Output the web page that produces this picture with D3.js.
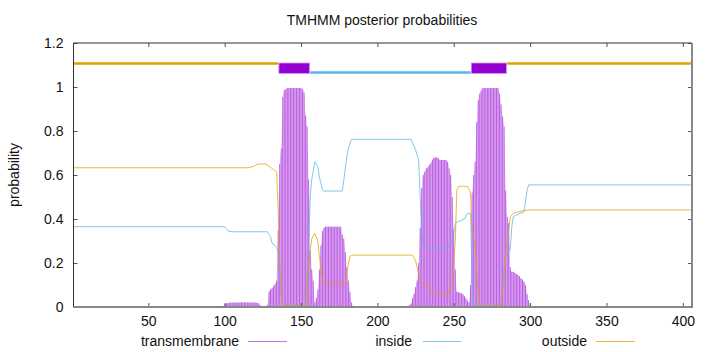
<!DOCTYPE html>
<html>
<head>
<meta charset="utf-8">
<script src="https://cdn.jsdelivr.net/npm/d3@7"></script>
<style>
  html, body { margin: 0; padding: 0; background: #fff; }
  svg text { font-family: "Liberation Sans", Arial, sans-serif; fill: #111; }
</style>
</head>
<body>
<svg id="chart" width="720" height="352"></svg>
<script>
// ---- data ----
const seqLength = 406;
const xTicks = [50, 100, 150, 200, 250, 300, 350, 400];
const yTicks = [0, 0.2, 0.4, 0.6, 0.8, 1, 1.2];
const yTickLabels = ["0", "0.2", "0.4", "0.6", "0.8", "1", "1.2"];
const seriesNames = ["transmembrane", "inside", "outside"];

// topology segments [start, end]
const outsideSegments = [[1, 135], [285, 406]];
const insideSegments = [[156, 261]];
const tmSegments = [[136, 155], [262, 284]];

// transmembrane posterior, one value per residue starting at tmStart
const tmStart = 96;
const tmValues = [
  0, 0, 0, 0.005,                                                     // 96-99
  0.012, 0.016, 0.018, 0.019, 0.02, 0.02, 0.02, 0.02, 0.02, 0.02,     // 100-109
  0.021, 0.021, 0.021, 0.021, 0.021, 0.021, 0.021, 0.02, 0.02, 0.02,  // 110-119
  0.02, 0.019, 0.018, 0.01, 0.003, 0.003, 0.003, 0.004, 0.01, 0.07,   // 120-129
  0.08, 0.085, 0.095, 0.105, 0.12, 0.35, 0.65, 0.72, 0.955, 0.985,    // 130-139
  0.99, 0.995, 0.995, 0.995, 0.995, 0.995, 0.995, 0.995, 0.995, 0.995,// 140-149
  0.995, 0.99, 0.975, 0.87, 0.82, 0.58, 0.26, 0.17, 0.12, 0.02,       // 150-159
  0.04, 0.08, 0.17, 0.28, 0.345, 0.36, 0.365, 0.365, 0.365, 0.365,    // 160-169
  0.365, 0.365, 0.365, 0.365, 0.365, 0.365, 0.365, 0.33, 0.31, 0.25,  // 170-179
  0.18, 0.12, 0.07, 0.02, 0.005, 0, 0, 0, 0, 0,                       // 180-189
  0, 0, 0, 0, 0, 0, 0, 0, 0, 0,                                       // 190-199
  0, 0, 0, 0, 0, 0, 0, 0, 0, 0,                                       // 200-209
  0, 0, 0, 0, 0, 0, 0, 0, 0, 0.003,                                   // 210-219
  0.005, 0.008, 0.015, 0.04, 0.06, 0.09, 0.12, 0.2, 0.36, 0.54,       // 220-229
  0.6, 0.615, 0.63, 0.635, 0.645, 0.655, 0.67, 0.678, 0.68, 0.68,     // 230-239
  0.675, 0.668, 0.668, 0.668, 0.668, 0.668, 0.66, 0.63, 0.6, 0.5,     // 240-249
  0.35, 0.17, 0.07, 0.068, 0.065, 0.062, 0.058, 0.05, 0.04, 0.028,    // 250-259
  0.02, 0.1, 0.52, 0.6, 0.66, 0.84, 0.94, 0.97, 0.985, 0.995,         // 260-269
  0.995, 0.995, 0.995, 0.995, 0.995, 0.995, 0.995, 0.995, 0.995, 0.995,// 270-279
  0.97, 0.92, 0.865, 0.82, 0.53, 0.41, 0.38, 0.18, 0.16, 0.16,        // 280-289
  0.155, 0.15, 0.145, 0.14, 0.13, 0.125, 0.115, 0.1, 0.06, 0.03,      // 290-299
  0.01                                                                // 300
];

// inside posterior, [residue, probability]
const insidePoints = [
  [1, 0.365], [100, 0.365], [102, 0.347], [105, 0.342], [128, 0.342], [130, 0.32],
  [131, 0.29], [133, 0.28], [134, 0.27], [135, 0.25], [136, 0.15], [137, 0.05],
  [138, 0.005], [153, 0.005], [154, 0.1], [155, 0.3], [156, 0.5], [157, 0.58],
  [158, 0.62], [159, 0.66], [161, 0.638], [162, 0.59], [164, 0.535], [165, 0.527],
  [177, 0.527], [178, 0.577], [180, 0.683], [181, 0.72], [183, 0.762], [222, 0.762],
  [225, 0.714], [227, 0.668], [228, 0.5], [229, 0.35], [230, 0.28], [233, 0.267],
  [238, 0.262], [246, 0.274], [249, 0.3], [251, 0.38], [253, 0.388], [257, 0.4],
  [259, 0.426], [261, 0.426], [262, 0.12], [263, 0.005], [281, 0.005], [282, 0.12],
  [284, 0.23], [286, 0.25], [287, 0.26], [288, 0.365], [289, 0.41], [291, 0.418],
  [296, 0.433], [298, 0.53], [299, 0.555], [406, 0.555]
];

// outside posterior, [residue, probability]
const outsidePoints = [
  [1, 0.633], [116, 0.633], [119, 0.64], [122, 0.65], [127, 0.65], [130, 0.635],
  [134, 0.615], [135, 0.45], [136, 0.2], [137, 0.05], [138, 0.005], [153, 0.005],
  [154, 0.12], [156, 0.26], [157, 0.31], [159, 0.335], [161, 0.3], [162, 0.23],
  [164, 0.12], [165, 0.108], [179, 0.108], [180, 0.16], [182, 0.23], [184, 0.236],
  [223, 0.236], [225, 0.21], [227, 0.15], [229, 0.115], [230, 0.108], [234, 0.092],
  [237, 0.062], [239, 0.058], [246, 0.058], [248, 0.09], [249, 0.11], [250, 0.2],
  [251, 0.3], [252, 0.53], [253, 0.547], [256, 0.55], [259, 0.547], [260, 0.535],
  [261, 0.517], [262, 0.335], [264, 0.29], [265, 0.18], [266, 0.06], [267, 0.005],
  [281, 0.005], [282, 0.08], [283, 0.14], [284, 0.244], [286, 0.35], [287, 0.41],
  [289, 0.426], [291, 0.43], [296, 0.438], [299, 0.441], [406, 0.441]
];

// ---- drawing ----
const colors = { tm: "#9400D3", inside: "#56B4E9", outside: "#E69F00" };
const svg = d3.select("#chart");
const pLeft = 73.5, pRight = 692, pTop = 43, pBottom = 307;

const x = d3.scaleLinear().domain([1, seqLength]).range([pLeft, pRight]);
const y = d3.scaleLinear().domain([0, 1.2]).range([pBottom, pTop]);

// title
svg.append("text").attr("x", 382).attr("y", 25).attr("text-anchor", "middle")
  .style("font-size", "14px").text("TMHMM posterior probabilities");

// y label
svg.append("text").attr("transform", `translate(19,${(pTop + pBottom) / 2}) rotate(-90)`)
  .attr("text-anchor", "middle").style("font-size", "14px").text("probability");

const plot = svg.append("g");

// TM impulses
const tmAll = tmValues.map((v, i) => [tmStart + i, v]);
const tmData = tmAll.filter(d => d[1] > 0);
plot.append("path")
  .attr("d", d3.area().x(d => x(d[0])).y0(y(0)).y1(d => y(d[1]))(tmAll))
  .attr("fill", colors.tm).attr("fill-opacity", 0.2).attr("stroke", "none");
plot.selectAll("line.imp").data(tmData).join("line").attr("class", "imp")
  .attr("x1", d => x(d[0])).attr("x2", d => x(d[0]))
  .attr("y1", y(0)).attr("y2", d => y(d[1]))
  .attr("stroke", colors.tm).attr("stroke-opacity", 0.55).attr("stroke-width", 1);

// lines
const line = d3.line().x(d => x(d[0])).y(d => y(d[1]));
plot.append("path").attr("d", line(insidePoints)).attr("fill", "none")
  .attr("stroke", colors.inside).attr("stroke-opacity", 0.75).attr("stroke-width", 1);
plot.append("path").attr("d", line(outsidePoints)).attr("fill", "none")
  .attr("stroke", colors.outside).attr("stroke-opacity", 0.75).attr("stroke-width", 1);

// topology bar
outsideSegments.forEach(s => {
  plot.append("line").attr("x1", x(s[0])).attr("x2", x(s[1]))
    .attr("y1", y(1.107)).attr("y2", y(1.107))
    .attr("stroke", colors.outside).attr("stroke-width", 2.6);
});
insideSegments.forEach(s => {
  plot.append("line").attr("x1", x(s[0])).attr("x2", x(s[1]))
    .attr("y1", y(1.066)).attr("y2", y(1.066))
    .attr("stroke", colors.inside).attr("stroke-width", 2.6);
});
tmSegments.forEach(s => {
  plot.append("rect").attr("x", x(s[0] - 0.5)).attr("width", x(s[1] + 0.5) - x(s[0] - 0.5))
    .attr("y", y(1.109)).attr("height", y(1.062) - y(1.109))
    .attr("fill", colors.tm).attr("stroke", "#c890ee").attr("stroke-width", 0.8);
});

// axes (ticks inward, mirrored)
const axisG = svg.append("g");
const xb = axisG.append("g").attr("transform", `translate(0,${pBottom})`)
  .call(d3.axisBottom(x).tickValues(xTicks).tickSize(-4).tickPadding(9).tickFormat(d3.format("d")));
const xt = axisG.append("g").attr("transform", `translate(0,${pTop})`)
  .call(d3.axisTop(x).tickValues(xTicks).tickSize(-4).tickFormat(""));
const yl = axisG.append("g").attr("transform", `translate(${pLeft},0)`)
  .call(d3.axisLeft(y).tickValues(yTicks).tickSize(-4).tickPadding(10)
    .tickFormat((d, i) => yTickLabels[i]));
const yr = axisG.append("g").attr("transform", `translate(${pRight},0)`)
  .call(d3.axisRight(y).tickValues(yTicks).tickSize(-4).tickFormat(""));
[xb, xt, yl, yr].forEach(g => {
  g.select(".domain").remove();
  g.selectAll(".tick line").attr("stroke", "#555");
  g.selectAll(".tick text").style("font-size", "14px")
    .style("font-family", '"Liberation Sans", Arial, sans-serif').attr("fill", "#111");
});
// border
axisG.append("line").attr("x1", pLeft).attr("x2", pRight).attr("y1", pTop).attr("y2", pTop).attr("stroke", "#333");
axisG.append("line").attr("x1", pLeft).attr("x2", pLeft).attr("y1", pTop).attr("y2", pBottom).attr("stroke", "#333");
axisG.append("line").attr("x1", pLeft).attr("x2", pRight + 1).attr("y1", pBottom).attr("y2", pBottom).attr("stroke", "#888").attr("stroke-width", 2);
axisG.append("line").attr("x1", pRight).attr("x2", pRight).attr("y1", pTop).attr("y2", pBottom).attr("stroke", "#888").attr("stroke-width", 2);

// legend
const legendItems = [
  { name: seriesNames[0], textX: 239, x1: 248, x2: 287, color: "#b060e0", op: 0.85 },
  { name: seriesNames[1], textX: 412, x1: 423, x2: 461, color: colors.inside, op: 0.75 },
  { name: seriesNames[2], textX: 587, x1: 596, x2: 635, color: colors.outside, op: 0.75 }
];
const lg = svg.append("g");
legendItems.forEach(it => {
  lg.append("text").attr("x", it.textX).attr("y", 346).attr("text-anchor", "end")
    .style("font-size", "14px").text(it.name);
  lg.append("line").attr("x1", it.x1).attr("x2", it.x2).attr("y1", 341.5).attr("y2", 341.5)
    .attr("stroke", it.color).attr("stroke-opacity", it.op).attr("stroke-width", 1);
});
</script>
</body>
</html>
